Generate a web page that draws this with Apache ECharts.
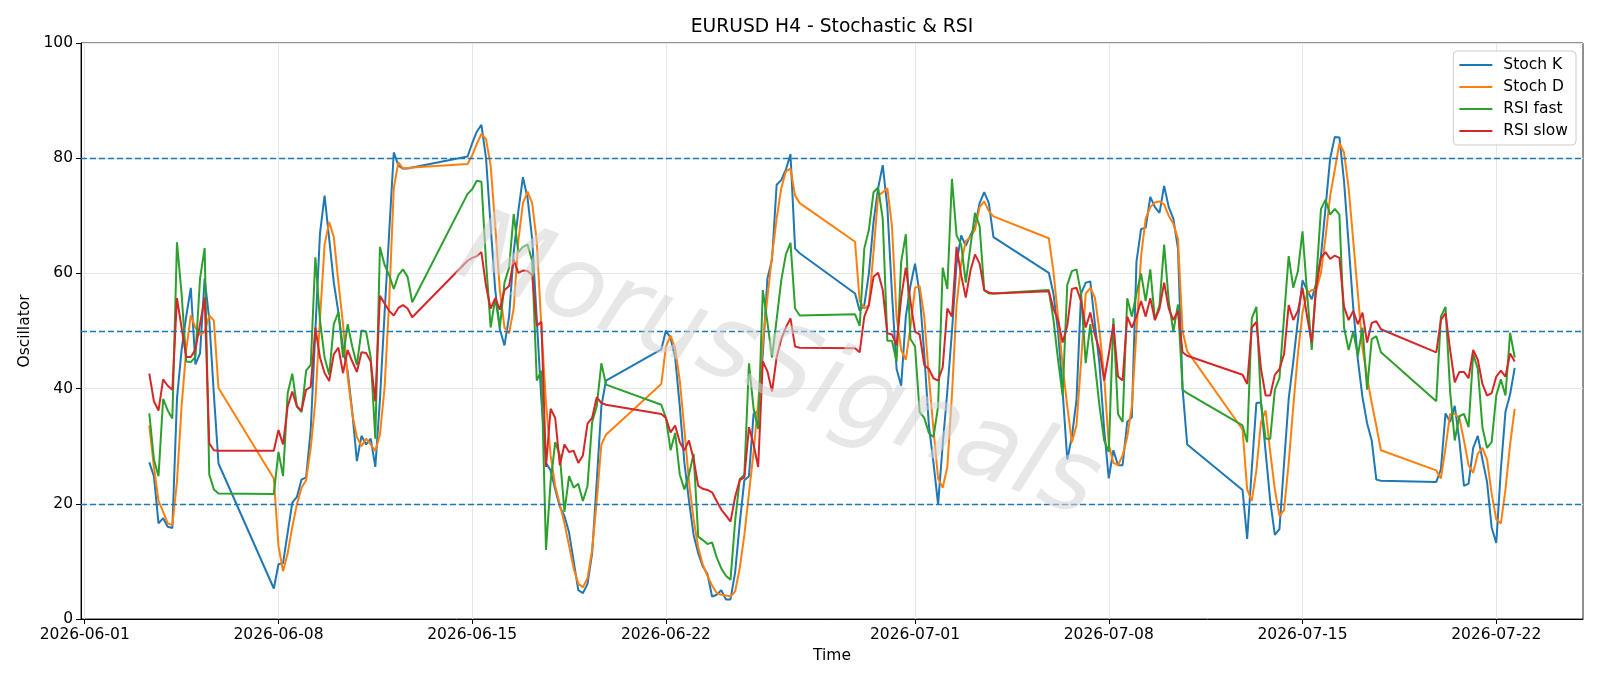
<!DOCTYPE html>
<html>
<head>
<meta charset="utf-8">
<title>EURUSD H4 - Stochastic & RSI</title>
<script src="https://cdn.jsdelivr.net/npm/echarts@6/dist/echarts.min.js"></script>
<style>
  html, body { margin: 0; padding: 0; background: #fff; }
  #main { width: 1600px; height: 686px; }
</style>
</head>
<body>
<div id="main"></div>
<script>
// H4 trading sessions (start bar, last bar), 4h steps, UTC
var sessions = [
    ['2026-06-03 08:00', '2026-06-05 20:00'],
    ['2026-06-07 20:00', '2026-06-12 20:00'],
    ['2026-06-14 20:00', '2026-06-19 20:00'],
    ['2026-06-21 20:00', '2026-06-26 20:00'],
    ['2026-06-28 20:00', '2026-07-03 20:00'],
    ['2026-07-05 20:00', '2026-07-10 20:00'],
    ['2026-07-12 20:00', '2026-07-17 20:00'],
    ['2026-07-19 20:00', '2026-07-22 16:00']
];

var tickLabels = ['2026-06-01', '2026-06-08', '2026-06-15', '2026-06-22',
                  '2026-07-01', '2026-07-08', '2026-07-15', '2026-07-22'];

var stochK = [
    27.2, 24.8, 16.6, 17.5, 16.0, 15.8, 38.2, 46.7, 52.5, 57.5, 44.2, 46.1, 59.1, 52.0, 39.0, 27.0,
    5.3, 9.5, 9.7, 15.0, 20.2, 21.2, 24.2, 24.6, 32.9, 50.0, 66.9, 73.5, 66.0, 58.4, 53.2, 47.0, 43.0, 36.0, 27.4, 31.8, 30.3, 31.3, 26.4, 38.0, 53.0, 67.0, 81.0, 78.7, 78.2, 78.2, 78.4,
    80.3, 82.6, 84.6, 85.8, 80.0, 68.2, 57.1, 50.3, 47.5, 52.5, 63.7, 70.8, 76.7, 73.1, 66.0, 52.0, 38.0, 27.1, 25.8, 22.5, 19.5, 17.9, 15.0, 10.0, 5.0, 4.5, 6.1, 11.4, 23.8, 36.9, 41.4,
    46.8, 50.1, 48.8, 45.4, 36.9, 27.1, 20.5, 14.6, 11.4, 9.1, 7.8, 3.9, 4.2, 5.0, 3.4, 3.4, 8.1, 16.6, 24.1, 24.8, 35.6, 36.1, 46.0, 59.1, 62.4, 75.4, 76.2, 78.0, 80.7, 64.3, 63.5,
    56.5, 53.5, 54.5, 60.0, 68.9, 74.8, 78.8, 71.5, 56.5, 43.4, 40.5, 52.5, 57.8, 61.7, 56.5, 46.0, 33.6, 27.1, 19.9, 30.3, 39.5, 49.9, 61.7, 66.6, 64.8, 66.6, 68.2, 72.2, 74.1, 72.2, 66.3,
    60.1, 56.5, 50.0, 39.5, 27.7, 31.6, 38.0, 56.5, 58.4, 58.6, 51.2, 44.1, 32.9, 24.4, 29.3, 26.7, 26.7, 34.2, 35.0, 62.0, 67.7, 67.9, 73.3, 71.5, 70.5, 75.2, 71.5, 69.5, 64.3, 40.0, 30.3,
    22.4, 13.9, 26.0, 37.5, 37.6, 29.0, 20.5, 14.6, 15.6, 27.0, 38.2, 44.7, 51.9, 58.8, 57.1, 55.5, 58.4, 63.0, 71.5, 80.0, 83.7, 83.6, 76.0, 65.0, 54.0, 45.0, 38.5, 34.0, 31.0, 24.2, 24.0,
    23.8, 26.0, 35.7, 34.2, 37.0, 31.0, 23.1, 23.5, 29.7, 31.8, 27.7, 23.8, 15.9, 13.2, 26.0, 36.0, 39.0, 43.6
];

var stochD = [
    33.6, 26.4, 20.5, 18.6, 16.6, 16.3, 23.8, 36.9, 46.7, 52.7, 50.6, 49.3, 49.9, 52.7, 51.8, 40.1,
    24.4, 12.7, 8.3, 11.4, 16.0, 19.9, 22.8, 24.1, 29.7, 37.8, 52.0, 65.0, 68.9, 66.3, 58.4, 51.2, 42.1, 35.6, 31.6, 30.0, 31.3, 30.3, 29.2, 32.0, 40.1, 55.0, 74.8, 79.3, 78.2, 78.3, 78.4,
    79.0, 80.5, 82.5, 84.2, 83.3, 78.7, 68.2, 57.1, 50.6, 49.6, 53.9, 65.6, 72.2, 74.2, 72.2, 65.6, 50.6, 37.5, 28.4, 23.1, 19.9, 16.6, 12.7, 8.8, 6.1, 5.5, 7.1, 12.0, 20.5, 30.3, 32.0,
    40.8, 47.3, 49.2, 47.0, 41.4, 32.9, 23.8, 17.3, 12.4, 9.4, 7.5, 5.8, 4.5, 4.2, 4.1, 3.9, 4.8, 8.8, 14.6, 21.8, 29.0, 37.5, 48.0, 55.8, 63.0, 69.5, 74.8, 77.7, 78.2, 73.5, 72.2,
    65.5, 55.2, 53.9, 54.5, 63.7, 73.5, 74.1, 74.8, 68.2, 52.5, 46.7, 45.0, 50.6, 57.5, 57.8, 52.5, 42.1, 32.9, 24.4, 22.8, 26.4, 38.8, 54.5, 61.7, 65.6, 66.3, 67.6, 71.5, 72.5, 70.8, 69.9,
    66.1, 60.4, 52.5, 44.0, 36.9, 30.7, 33.6, 44.7, 56.5, 57.5, 55.8, 49.9, 42.1, 30.3, 27.1, 26.7, 28.4, 31.6, 36.9, 49.9, 63.0, 69.5, 71.5, 72.3, 72.5, 72.0, 70.0, 68.6, 66.0, 50.0, 46.5,
    32.9, 22.5, 20.5, 25.8, 34.2, 36.2, 29.0, 22.5, 17.9, 18.9, 27.1, 36.9, 46.0, 53.2, 56.5, 57.1, 57.1, 60.1, 66.3, 73.5, 78.0, 82.6, 81.0, 74.8, 65.6, 56.5, 47.0, 42.0, 37.5, 33.5, 29.3,
    25.8, 24.4, 29.7, 35.6, 35.6, 34.9, 31.0, 26.7, 25.4, 28.7, 29.7, 27.7, 21.8, 17.3, 16.6, 22.5, 30.3, 36.5
];

var rsiFast = [
    35.7, 27.7, 24.8, 38.2, 36.2, 34.8, 65.4, 56.5, 44.7, 44.6, 45.5, 59.1, 64.4, 25.1, 22.5, 21.8,
    21.7, 29.0, 24.8, 39.2, 42.6, 36.9, 35.9, 43.1, 44.1, 62.8, 51.9, 45.4, 42.4, 51.2, 53.3, 45.4, 51.2, 47.3, 44.1, 50.1, 49.9, 45.4, 31.3, 64.6, 61.5, 59.7, 57.3, 59.7, 60.7, 59.4, 55.0,
    73.8, 74.6, 76.1, 75.9, 62.0, 50.6, 55.7, 50.6, 58.4, 61.0, 70.3, 63.7, 64.6, 65.0, 62.2, 41.4, 43.1, 12.0, 23.8, 30.7, 28.4, 18.6, 24.8, 22.8, 23.5, 20.5, 23.1, 34.2, 36.9, 44.4, 40.7,
    37.2, 34.9, 29.3, 32.3, 25.1, 22.5, 25.1, 28.7, 14.3, 13.7, 13.0, 13.3, 10.7, 8.8, 7.5, 6.8, 17.0, 24.3, 25.0, 44.4, 36.5, 33.0, 57.1, 51.5, 45.4, 52.0, 58.8, 63.3, 65.3, 53.9, 52.7,
    52.9, 50.9, 64.3, 67.6, 74.1, 74.9, 69.5, 48.3, 48.3, 44.7, 62.0, 66.8, 48.6, 47.3, 35.9, 34.9, 32.3, 31.6, 36.9, 61.0, 57.3, 76.4, 66.6, 65.0, 58.4, 64.6, 70.5, 68.2, 57.1, 56.5, 56.5,
    57.1, 52.0, 45.0, 38.8, 58.0, 60.4, 60.7, 56.5, 44.4, 51.2, 44.1, 36.9, 31.0, 29.0, 52.2, 35.6, 34.2, 55.7, 52.5, 56.5, 60.0, 55.2, 60.7, 51.9, 54.5, 65.0, 55.2, 49.9, 54.6, 39.8, 39.2,
    33.6, 30.7, 52.2, 54.2, 37.5, 31.3, 31.3, 39.8, 41.8, 52.5, 63.0, 57.5, 60.4, 67.3, 56.5, 46.7, 59.1, 71.2, 72.8, 70.2, 71.2, 70.2, 50.6, 46.7, 49.9, 45.7, 50.6, 39.8, 48.6, 49.1, 46.3,
    37.8, 52.5, 54.2, 39.5, 31.0, 35.2, 35.6, 33.3, 46.0, 43.4, 33.3, 29.7, 30.7, 38.8, 41.6, 38.8, 49.7, 45.4
];

var rsiSlow = [
    42.6, 37.8, 36.2, 41.6, 40.5, 39.8, 55.7, 50.6, 45.5, 45.5, 46.8, 51.2, 55.8, 30.5, 29.3, 29.2,
    29.2, 32.8, 30.3, 36.9, 39.5, 36.9, 36.2, 39.8, 40.3, 50.6, 45.4, 42.7, 41.3, 46.0, 47.1, 42.7, 46.7, 44.7, 42.9, 46.3, 46.2, 44.7, 37.8, 56.1, 54.8, 53.5, 52.7, 54.0, 54.5, 53.9, 52.4,
    62.2, 62.7, 63.0, 63.7, 57.8, 53.9, 55.7, 53.7, 57.1, 57.8, 62.4, 60.1, 60.5, 60.4, 59.7, 50.9, 51.6, 26.4, 36.5, 34.9, 26.7, 30.3, 29.0, 29.2, 27.1, 28.4, 33.9, 34.9, 38.5, 37.5, 37.2,
    35.6, 34.9, 32.4, 33.6, 30.7, 29.3, 31.0, 27.7, 23.1, 22.6, 22.4, 22.0, 20.5, 19.0, 18.0, 16.9, 21.2, 24.1, 24.6, 33.3, 30.3, 26.4, 44.7, 43.0, 39.5, 45.4, 48.6, 50.6, 52.2, 47.3, 47.1,
    47.0, 46.3, 52.5, 54.5, 59.4, 60.1, 57.1, 49.6, 49.4, 47.5, 55.8, 61.0, 55.2, 49.9, 49.4, 44.1, 43.4, 41.8, 41.4, 43.7, 53.9, 52.5, 64.6, 59.7, 55.8, 60.4, 63.3, 61.7, 57.1, 56.7, 56.5,
    56.9, 53.9, 51.9, 48.0, 50.9, 57.3, 57.5, 55.2, 50.6, 53.2, 49.3, 46.7, 41.4, 46.0, 51.2, 42.1, 41.4, 52.5, 50.6, 52.5, 55.2, 52.5, 55.7, 51.9, 53.9, 58.4, 53.9, 51.9, 53.5, 46.3, 45.7,
    42.4, 40.8, 50.6, 51.6, 43.4, 38.8, 38.8, 42.4, 43.4, 46.0, 54.5, 51.9, 53.5, 57.5, 52.5, 48.0, 57.8, 62.7, 63.7, 62.5, 63.1, 62.7, 54.2, 51.9, 53.5, 51.2, 53.2, 48.0, 51.4, 51.7, 50.3,
    46.3, 51.9, 53.1, 46.7, 41.1, 42.9, 42.9, 41.8, 46.7, 45.0, 40.8, 38.8, 39.2, 42.1, 43.1, 42.1, 46.1, 44.7
];

var levels = [20, 50, 80];

function parseUTC(s) {
    var p = s.split(/[- :]/);
    return Date.UTC(+p[0], +p[1] - 1, +p[2], +(p[3] || 0), +(p[4] || 0));
}

// expand the sessions into bar times
var times = [];
sessions.forEach(function (s) {
    var end = parseUTC(s[1]);
    for (var t = parseUTC(s[0]); t <= end; t += 4 * 3600 * 1000) {
        times.push(t);
    }
});

function pairs(vals) {
    return vals.map(function (v, i) { return [times[i], v]; });
}

var tickValues = tickLabels.map(function (d) { return parseUTC(d); });

var font = '"DejaVu Sans", "Liberation Sans", sans-serif';
var fs = 15.5;
var chart = echarts.init(document.getElementById('main'), null, { renderer: 'canvas' });

var option = {
    animation: false,
    backgroundColor: '#ffffff',
    textStyle: { fontFamily: font },
    title: {
        text: 'EURUSD H4 - Stochastic & RSI',
        left: 832,
        top: 18,
        padding: 0,
        textAlign: 'center',
        textStyle: { fontSize: 18.7, fontWeight: 'normal', color: '#000', fontFamily: font }
    },
    legend: {
        orient: 'vertical',
        right: 24,
        top: 51,
        padding: [6, 8, 6, 6],
        itemGap: 6,
        itemWidth: 33,
        itemHeight: 2,
        icon: 'rect',
        backgroundColor: 'rgba(255,255,255,0.85)',
        borderColor: '#cccccc',
        borderWidth: 1,
        borderRadius: 4,
        textStyle: { fontSize: fs, color: '#000', fontFamily: font, padding: [0, 0, 0, 6] },
        data: ['Stoch K', 'Stoch D', 'RSI fast', 'RSI slow']
    },
    grid: {
        left: 81, right: 17, top: 43, bottom: 67,
        show: true,
        borderColor: '#222',
        borderWidth: 1,
        containLabel: false,
        outerBoundsMode: 'none'
    },
    xAxis: {
        type: 'value',
        min: parseUTC('2026-05-31 20:47'),
        max: parseUTC('2026-07-25 03:13'),
        scale: true,
        name: 'Time',
        nameLocation: 'middle',
        nameGap: 28,
        nameTextStyle: { fontSize: fs, color: '#000', fontFamily: font },
        axisLine: { lineStyle: { color: '#000', width: 1 } },
        axisTick: { show: true, length: 5, lineStyle: { color: '#000' }, customValues: tickValues },
        axisLabel: {
            customValues: tickValues,
            showMinLabel: true,
            showMaxLabel: true,
            fontSize: fs,
            color: '#000',
            margin: 8,
            fontFamily: font,
            formatter: function (v) { return new Date(v).toISOString().slice(0, 10); }
        },
        splitLine: { show: true, lineStyle: { color: '#e6e6e6', width: 1 } }
    },
    yAxis: {
        type: 'value',
        min: 0,
        max: 100,
        interval: 20,
        name: 'Oscillator',
        nameLocation: 'middle',
        nameGap: 48,
        nameTextStyle: { fontSize: fs, color: '#000', fontFamily: font },
        axisLine: { show: true, lineStyle: { color: '#000', width: 1 } },
        axisTick: { show: true, length: 5, lineStyle: { color: '#000' } },
        axisLabel: { fontSize: fs, color: '#000', margin: 8, fontFamily: font },
        splitLine: { show: true, lineStyle: { color: '#e6e6e6', width: 1 } }
    },
    graphic: [{
        type: 'text',
        x: 778,
        y: 370,
        rotation: -0.37,
        z: 100,
        silent: true,
        style: {
            text: 'MorusSignals',
            font: 'italic 102px "DejaVu Sans"',
            fill: 'rgba(212,212,212,0.55)',
            textAlign: 'center',
            textVerticalAlign: 'middle',
            shadowColor: 'rgba(80,80,80,0.45)',
            shadowBlur: 3,
            shadowOffsetX: 3,
            shadowOffsetY: 3
        }
    }],
    series: [
        {
            name: 'Stoch K', type: 'line', data: pairs(stochK),
            showSymbol: false, symbol: 'none',
            lineStyle: { width: 2, color: '#1f77b4' }, itemStyle: { color: '#1f77b4' },
            markLine: {
                silent: true,
                symbol: 'none',
                label: { show: false },
                lineStyle: { color: '#1f77b4', type: [6, 3], width: 1.3 },
                data: levels.map(function (l) { return { yAxis: l }; })
            }
        },
        {
            name: 'Stoch D', type: 'line', data: pairs(stochD),
            showSymbol: false, symbol: 'none',
            lineStyle: { width: 2, color: '#ff7f0e' }, itemStyle: { color: '#ff7f0e' }
        },
        {
            name: 'RSI fast', type: 'line', data: pairs(rsiFast),
            showSymbol: false, symbol: 'none',
            lineStyle: { width: 2, color: '#2ca02c' }, itemStyle: { color: '#2ca02c' }
        },
        {
            name: 'RSI slow', type: 'line', data: pairs(rsiSlow),
            showSymbol: false, symbol: 'none',
            lineStyle: { width: 2, color: '#d62728' }, itemStyle: { color: '#d62728' }
        }
    ]
};

chart.setOption(option);
</script>
</body>
</html>
